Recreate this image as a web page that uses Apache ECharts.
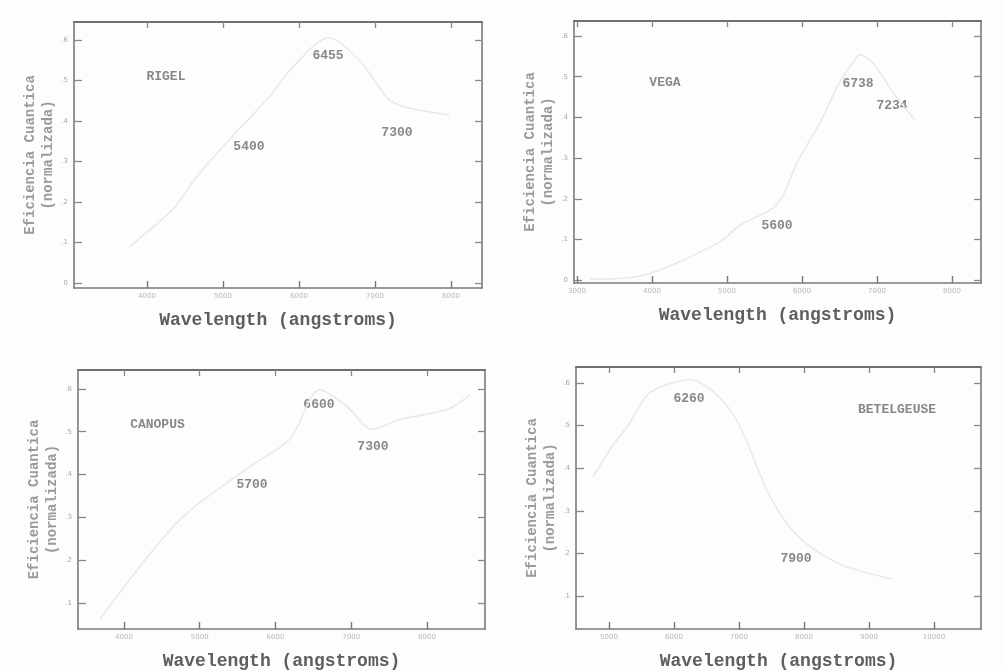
<!DOCTYPE html>
<html><head><meta charset="utf-8">
<script src="https://cdn.jsdelivr.net/npm/echarts@6/dist/echarts.min.js"></script>
<style>html,body{margin:0;padding:0;background:#fdfdfd}#c{width:1003px;height:671px}</style>
</head><body><div id="c"></div>
<script>
// ---- data ----
const rigelWave = [3763, 4355, 4618, 5079, 5632, 5908, 6395, 6789, 6987, 7184, 7447, 7974];
const rigelEff  = [0.089, 0.185, 0.254, 0.353, 0.464, 0.531, 0.605, 0.551, 0.501, 0.452, 0.432, 0.415];
const vegaWave = [3173, 3840, 4880, 5173, 5573, 5733, 5933, 6280, 6467, 6640, 6773, 6947, 7213, 7507];
const vegaEff  = [0.002, 0.010, 0.091, 0.135, 0.172, 0.204, 0.288, 0.401, 0.475, 0.525, 0.554, 0.534, 0.461, 0.394];
const canopusWave = [3683, 4449, 4871, 5663, 6191, 6587, 6917, 7287, 7644, 8264, 8568];
const canopusEff  = [0.063, 0.238, 0.316, 0.419, 0.483, 0.598, 0.563, 0.506, 0.529, 0.552, 0.586];
const betelWave = [4754, 5015, 5323, 5631, 6246, 6892, 7477, 7908, 8554, 9369];
const betelEff  = [0.380, 0.443, 0.507, 0.577, 0.607, 0.530, 0.334, 0.240, 0.175, 0.140];

// text annotations: [label, wavelength, efficiency]
const rigelNotes   = [['RIGEL', 4250, 0.509], ['6455', 6382, 0.560], ['5400', 5342, 0.336], ['7300', 7289, 0.370]];
const vegaNotes    = [['VEGA', 4173, 0.485], ['6738', 6747, 0.483], ['7234', 7200, 0.429], ['5600', 5667, 0.135]];
const canopusNotes = [['CANOPUS', 4442, 0.516], ['6600', 6574, 0.563], ['5700', 5690, 0.376], ['7300', 7287, 0.465]];
const betelNotes   = [['BETELGEUSE', 9431, 0.537], ['6260', 6231, 0.563], ['7900', 7877, 0.188]];

const rigelXTicks   = [4000, 5000, 6000, 7000, 8000];
const vegaXTicks    = [3000, 4000, 5000, 6000, 7000, 8000];
const canopusXTicks = [4000, 5000, 6000, 7000, 8000];
const betelXTicks   = [5000, 6000, 7000, 8000, 9000, 10000];
const yTicksFull  = [0, 0.1, 0.2, 0.3, 0.4, 0.5, 0.6];
const yTicksShort = [0.1, 0.2, 0.3, 0.4, 0.5, 0.6];

const xTitle = 'Wavelength (angstroms)';
const yTitle = 'Eficiencia Cuantica\n(normalizada)';

// ---- layout ----
const panels = [
  {grid:{left:74, top:22, width:408, height:266}, xr:[3040, 8408], yr:[-0.012, 0.644], xt:rigelXTicks, yt:yTicksFull, w:rigelWave, e:rigelEff, notes:rigelNotes},
  {grid:{left:574, top:21, width:407, height:262}, xr:[2960, 8387], yr:[-0.007, 0.637], xt:vegaXTicks, yt:yTicksFull, w:vegaWave, e:vegaEff, notes:vegaNotes},
  {grid:{left:78, top:370, width:407, height:263}, xr:[3393, 8766], yr:[0.040, 0.644], xt:canopusXTicks, yt:yTicksShort, w:canopusWave, e:canopusEff, notes:canopusNotes},
  {grid:{left:576, top:367, width:405, height:263}, xr:[4492, 10723], yr:[0.023, 0.637], xt:betelXTicks, yt:yTicksShort, w:betelWave, e:betelEff, notes:betelNotes}
];

const frame = {color:'#7a7a7a', width:1.6};
const grids = [], xAxes = [], yAxes = [], series = [];
panels.forEach((p, i) => {
  grids.push(Object.assign({containLabel:false}, p.grid));
  const yFmt = v => v === 0 ? '0' : String(+v.toFixed(1)).replace(/^0/, '');
  const xFmt = v => String(Math.round(v));
  // bottom axis
  xAxes.push({type:'value', gridIndex:i, position:'bottom', min:p.xr[0], max:p.xr[1],
    axisLine:{show:true, onZero:false, lineStyle:frame},
    axisTick:{show:true, inside:true, length:7, customValues:p.xt, lineStyle:{color:'#777', width:1.4}},
    axisLabel:{show:true, customValues:p.xt, formatter:xFmt, fontSize:7, color:'#b8b8b8', margin:5, fontFamily:'DejaVu Sans'},
    splitLine:{show:false},
    name:xTitle, nameLocation:'middle', nameGap:23,
    nameTextStyle:{fontFamily:'Liberation Mono', fontWeight:'bold', fontSize:18, color:'#5e5e5e'}});
  // top axis (frame + ticks)
  xAxes.push({type:'value', gridIndex:i, position:'top', min:p.xr[0], max:p.xr[1],
    axisLine:{show:true, onZero:false, lineStyle:{color:'#6f6f6f', width:2}},
    axisTick:{show:true, inside:true, length:6, customValues:p.xt, lineStyle:{color:'#888', width:1.3}},
    axisLabel:{show:false}, splitLine:{show:false}});
  // left axis
  yAxes.push({type:'value', gridIndex:i, position:'left', min:p.yr[0], max:p.yr[1],
    axisLine:{show:true, onZero:false, lineStyle:frame},
    axisTick:{show:true, inside:true, length:8, customValues:p.yt, lineStyle:{color:'#888', width:1.3}},
    axisLabel:{show:true, customValues:p.yt, formatter:yFmt, fontSize:7, color:'#a8a8a8', margin:6, fontFamily:'DejaVu Sans'},
    splitLine:{show:false},
    name:yTitle, nameLocation:'middle', nameGap:17, nameRotate:90,
    nameTextStyle:{fontFamily:'Liberation Mono', fontWeight:'bold', fontSize:14, lineHeight:18, color:'#9a9a9a'}});
  // right axis
  yAxes.push({type:'value', gridIndex:i, position:'right', min:p.yr[0], max:p.yr[1],
    axisLine:{show:true, onZero:false, lineStyle:frame},
    axisTick:{show:true, inside:true, length:7, customValues:p.yt, lineStyle:{color:'#888', width:1.3}},
    axisLabel:{show:false}, splitLine:{show:false}});

  series.push({type:'line', xAxisIndex:2*i, yAxisIndex:2*i, symbol:'none', smooth:0.3,
    lineStyle:{color:'#e9e9e9', width:1.6}, data:p.w.map((w, k) => [w, p.e[k]]), silent:true});
  series.push({type:'scatter', xAxisIndex:2*i, yAxisIndex:2*i, symbolSize:0, silent:true,
    data:p.notes.map(n => ({name:n[0], value:[n[1], n[2]]})),
    label:{show:true, position:'inside', formatter:'{b}', fontFamily:'Liberation Mono', fontWeight:'bold', fontSize:13, color:'#6a6a6a'}});
});

const chart = echarts.init(document.getElementById('c'), null, {renderer:'canvas'});
chart.setOption({backgroundColor:'#fdfdfd', animation:false, grid:grids, xAxis:xAxes, yAxis:yAxes, series:series});
</script></body></html>
